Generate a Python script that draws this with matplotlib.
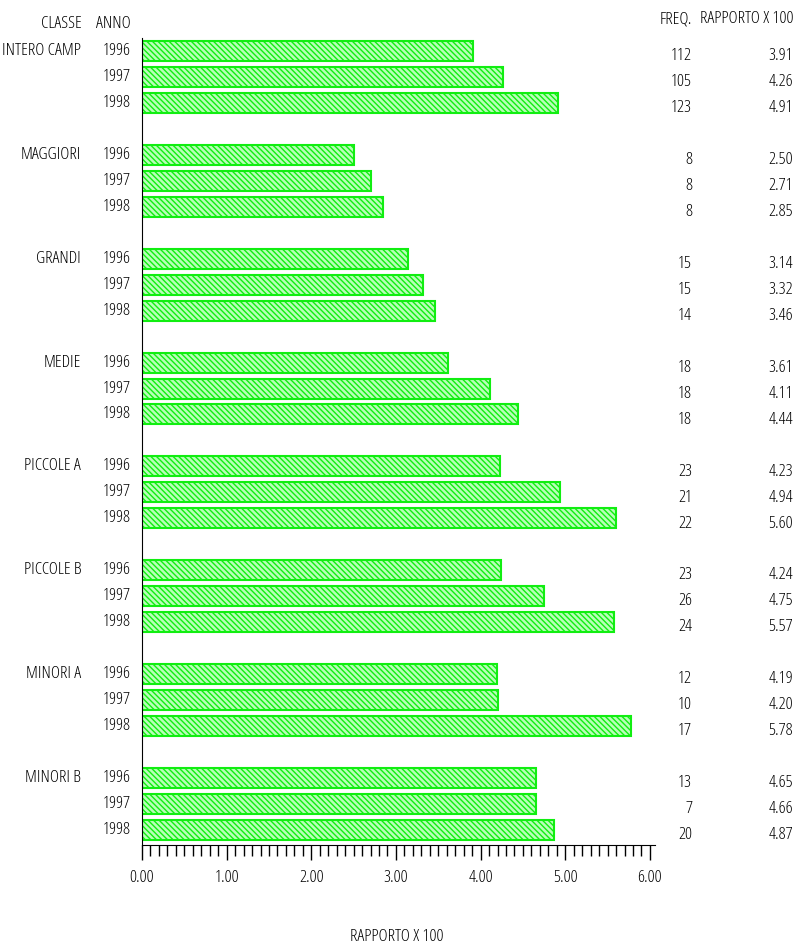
import numpy as np
import matplotlib
matplotlib.use("Agg")
import matplotlib.pyplot as plt
import matplotlib.transforms as mtransforms
from matplotlib import font_manager as fm
from matplotlib.ticker import MultipleLocator

# data
classi = ["INTERO CAMP", "MAGGIORI", "GRANDI", "MEDIE",
          "PICCOLE A", "PICCOLE B", "MINORI A", "MINORI B"]
anni = ["1996", "1997", "1998"]
freq = [[112, 105, 123],
        [8, 8, 8],
        [15, 15, 14],
        [18, 18, 18],
        [23, 21, 22],
        [23, 26, 24],
        [12, 10, 17],
        [13, 7, 20]]
rapporto = [[3.91, 4.26, 4.91],
            [2.50, 2.71, 2.85],
            [3.14, 3.32, 3.46],
            [3.61, 4.11, 4.44],
            [4.23, 4.94, 5.60],
            [4.24, 4.75, 5.57],
            [4.19, 4.20, 5.78],
            [4.65, 4.66, 4.87]]

fs = 12.5
# thin condensed font, like the original plotter output
light = [f.fname for f in fm.fontManager.ttflist if f.fname.endswith('OpenSans-CondLight.ttf')]
if light:
    fp = fm.FontProperties(fname=light[0], size=fs)
else:
    fp = fm.FontProperties(family='DejaVu Sans', stretch='condensed', size=fs)

plt.rcParams['hatch.linewidth'] = 1.0
plt.rcParams['hatch.color'] = '#11e011'

W, H = 801, 950
fig = plt.figure(figsize=(W / 100, H / 100), dpi=100)

# axes box in pixels (left, top, right, bottom)
L, T, R, B = 142, 38, 655, 845
ax = fig.add_axes([L / W, 1 - B / H, (R - L) / W, (B - T) / H])

green = '#11ee11'

for g, cls in enumerate(classi):
    rows = g * 4 + np.arange(3)
    ax.barh(rows, rapporto[g], height=0.77, color='#b8ffb8',
            edgecolor=green, linewidth=1.5, hatch='\\\\\\\\\\\\')

ax.set_xlim(0, 6.06)
ax.set_ylim(30.58, -0.5)
ax.xaxis.set_major_locator(MultipleLocator(1))
ax.xaxis.set_minor_locator(MultipleLocator(0.1))
ax.xaxis.set_major_formatter(lambda v, p: "%.2f" % v)
ax.tick_params(axis='x', which='major', length=11, width=1, pad=7)
ax.tick_params(axis='x', which='minor', length=8, width=1)
for lab in ax.get_xticklabels():
    lab.set_fontproperties(fp)
ax.set_yticks([])
ax.spines['top'].set_visible(False)
ax.spines['right'].set_visible(False)

tr = mtransforms.blended_transform_factory(fig.transFigure, ax.transData)
for g, cls in enumerate(classi):
    ax.text(81 / W, g * 4, cls, transform=tr, ha='right', va='center', fontproperties=fp)
    for i, a in enumerate(anni):
        r = g * 4 + i
        ax.text(131 / W, r, a, transform=tr, ha='right', va='center', fontproperties=fp)
        ax.text(692 / W, r + 0.2, str(freq[g][i]), transform=tr,
                ha='right', va='center', fontproperties=fp)
        ax.text(793 / W, r + 0.2, "%.2f" % rapporto[g][i], transform=tr,
                ha='right', va='center', fontproperties=fp)

# column headers and axis title
fig.text(82 / W, 1 - 24 / H, "CLASSE", ha='right', va='center', fontproperties=fp)
fig.text(131 / W, 1 - 24 / H, "ANNO", ha='right', va='center', fontproperties=fp)
fig.text(692 / W, 1 - 19 / H, "FREQ.", ha='right', va='center', fontproperties=fp)
fig.text(793 / W, 1 - 19 / H, "RAPPORTO X 100", ha='right', va='center', fontproperties=fp)
fig.text(397 / W, 1 - 937 / H, "RAPPORTO X 100", ha='center', va='center', fontproperties=fp)

plt.savefig("out.png", dpi=100)
